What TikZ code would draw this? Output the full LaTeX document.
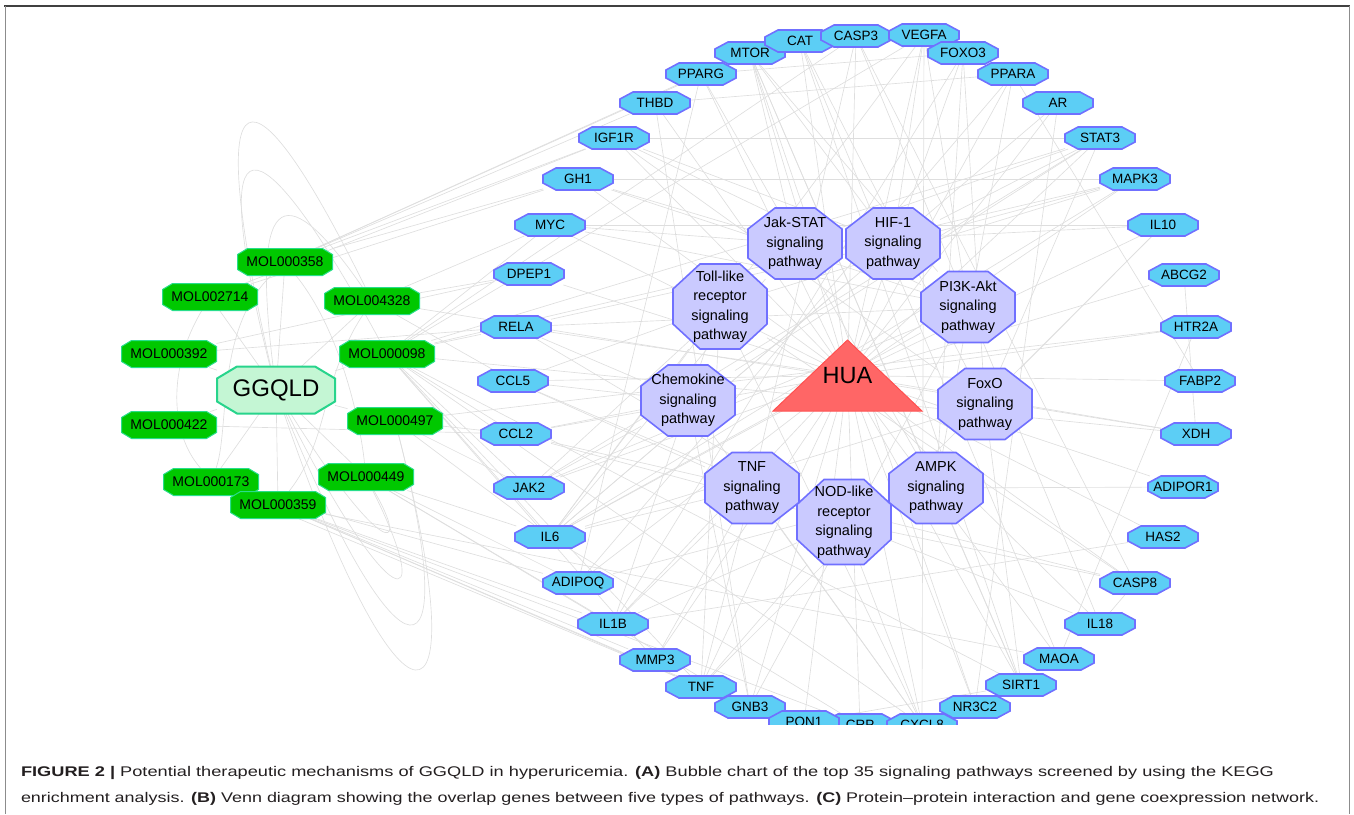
\documentclass[tikz,border=0pt]{standalone}
\usepackage{fontspec}
\setmainfont{Liberation Sans}
\usepackage{graphicx}
\makeatletter
\newdimen\octcx \newdimen\octcy
\newdimen\octxa \newdimen\octya \newdimen\octxb \newdimen\octyb
\pgfkeys{/pgf/octo cx/.initial=10pt, /pgf/octo cy/.initial=5pt}
\pgfdeclareshape{octo}{%
  \inheritsavedanchors[from=rectangle]%
  \inheritanchorborder[from=rectangle]%
  \inheritanchor[from=rectangle]{center}%
  \inheritanchor[from=rectangle]{north}%
  \inheritanchor[from=rectangle]{south}%
  \inheritanchor[from=rectangle]{east}%
  \inheritanchor[from=rectangle]{west}%
  \inheritanchor[from=rectangle]{north east}%
  \inheritanchor[from=rectangle]{north west}%
  \inheritanchor[from=rectangle]{south east}%
  \inheritanchor[from=rectangle]{south west}%
  \inheritanchor[from=rectangle]{base}%
  \inheritanchor[from=rectangle]{mid}%
  \backgroundpath{%
    \pgfmathsetlength\octcx{\pgfkeysvalueof{/pgf/octo cx}}%
    \pgfmathsetlength\octcy{\pgfkeysvalueof{/pgf/octo cy}}%
    \southwest \octxa=\pgf@x \octya=\pgf@y
    \northeast \octxb=\pgf@x \octyb=\pgf@y
    \pgfpathmoveto{\pgfqpoint{\octxa}{\dimexpr\octya+\octcy\relax}}%
    \pgfpathlineto{\pgfqpoint{\octxa}{\dimexpr\octyb-\octcy\relax}}%
    \pgfpathlineto{\pgfqpoint{\dimexpr\octxa+\octcx\relax}{\octyb}}%
    \pgfpathlineto{\pgfqpoint{\dimexpr\octxb-\octcx\relax}{\octyb}}%
    \pgfpathlineto{\pgfqpoint{\octxb}{\dimexpr\octyb-\octcy\relax}}%
    \pgfpathlineto{\pgfqpoint{\octxb}{\dimexpr\octya+\octcy\relax}}%
    \pgfpathlineto{\pgfqpoint{\dimexpr\octxb-\octcx\relax}{\octya}}%
    \pgfpathlineto{\pgfqpoint{\dimexpr\octxa+\octcx\relax}{\octya}}%
    \pgfpathclose
  }%
}
\pgfdeclareshape{trinode}{%
  \inheritsavedanchors[from=rectangle]%
  \inheritanchorborder[from=rectangle]%
  \inheritanchor[from=rectangle]{center}%
  \inheritanchor[from=rectangle]{north}%
  \inheritanchor[from=rectangle]{south}%
  \inheritanchor[from=rectangle]{east}%
  \inheritanchor[from=rectangle]{west}%
  \inheritanchor[from=rectangle]{south east}%
  \inheritanchor[from=rectangle]{south west}%
  \backgroundpath{%
    \southwest \octxa=\pgf@x \octya=\pgf@y
    \northeast \octxb=\pgf@x \octyb=\pgf@y
    \pgfpathmoveto{\pgfqpoint{\octxa}{\octya}}%
    \pgfpathlineto{\pgfqpoint{\octxb}{\octya}}%
    \pgfpathlineto{\pgfqpoint{\dimexpr(\octxa+\octxb)/2\relax}{\octyb}}%
    \pgfpathclose
  }%
}
\makeatother
\pgfdeclarelayer{bg}
\pgfsetlayers{bg,main}
\definecolor{genefill}{RGB}{92,206,245}
\definecolor{genebd}{RGB}{112,112,255}
\definecolor{pathfill}{RGB}{202,202,255}
\definecolor{molfill}{RGB}{0,200,0}
\definecolor{molbd}{RGB}{40,222,140}
\definecolor{herbfill}{RGB}{196,246,212}
\definecolor{herbbd}{RGB}{40,212,140}
\definecolor{huafill}{RGB}{255,102,102}
\definecolor{huabd}{RGB}{255,80,80}
\definecolor{edgec}{RGB}{222,222,222}
\definecolor{capc}{RGB}{35,31,32}
\begin{document}
\begin{tikzpicture}[x=1pt,y=-1pt,
  gene/.style={shape=octo, draw=genebd, fill=genefill, line width=1.6pt,
    minimum width=70pt, minimum height=22pt, inner sep=0pt, outer sep=0pt,
    octo cx=13pt, octo cy=7pt, font=\fontsize{13.5}{14}\selectfont},
  pathw/.style={shape=octo, draw=genebd, fill=pathfill, line width=1.6pt,
    minimum width=94pt, minimum height=71pt, inner sep=0pt, outer sep=0pt,
    octo cx=27pt, octo cy=21pt, align=center, font=\fontsize{14.5}{19.5}\selectfont},
  tallpath/.style={pathw, minimum height=85pt, octo cy=25pt},
  mol/.style={shape=octo, draw=molbd, fill=molfill, line width=1pt,
    minimum width=95pt, minimum height=27pt, inner sep=0pt, outer sep=0pt,
    octo cx=10pt, octo cy=6pt, font=\fontsize{14}{14}\selectfont},
  herb/.style={shape=octo, draw=herbbd, fill=herbfill, line width=2pt,
    minimum width=118pt, minimum height=47pt, inner sep=0pt, outer sep=0pt,
    octo cx=20pt, octo cy=12pt, font=\fontsize{24}{24}\selectfont},
  dis/.style={shape=trinode, draw=huabd, fill=huafill, line width=1pt,
    minimum width=149pt, minimum height=71pt, inner sep=0pt, outer sep=0pt,
    font=\fontsize{23.5}{24}\selectfont},
  edge/.style={draw=edgec, line width=0.65pt},
  captext/.style={anchor=base west, inner sep=0pt, outer sep=0pt, text=capc,
    font=\fontsize{14}{17}\selectfont}
]
\useasboundingbox (0,0) rectangle (1354,814);
% frame
\draw[black!75, line width=1.5pt] (4,6) -- (1350,6);
\draw[black!45, line width=0.8pt] (5,6) -- (5,814);
\draw[black!45, line width=0.8pt] (1349,6) -- (1349,814);

\begin{scope}
\clip (0,7) rectangle (1354,724.5);
% genes
\foreach \n/\x/\y/\t in {
  mtor/750/53/MTOR, cat/800/41/CAT, casp3/856/36/CASP3, vegfa/924/35/VEGFA,
  foxo3/963/53/FOXO3, pparg/701/74/PPARG, ppara/1013/74/PPARA,
  thbd/655/103/THBD, ar/1058/103/AR, igf1r/614/138/IGF1R, stat3/1100/138/STAT3,
  gh1/578/179/GH1, mapk3/1135/179/MAPK3, myc/550/225/MYC, il10/1163/225/IL10,
  dpep1/529/274/DPEP1, abcg2/1184/275/ABCG2, rela/516/327/RELA,
  htr2a/1196/327/HTR2A, ccl5/513/381/CCL5, fabp2/1200/381/FABP2,
  ccl2/516/434/CCL2, xdh/1196/434/XDH, jak2/529/488/JAK2,
  adipor1/1183/487/ADIPOR1, il6/550/537/IL6, has2/1163/537/HAS2,
  adipoq/578/583/ADIPOQ, casp8/1135/583/CASP8, il1b/613/624/IL1B,
  il18/1100/624/IL18, mmp3/655/660/MMP3, maoa/1059/659/MAOA,
  tnf/701/687/TNF, sirt1/1021/685/SIRT1, gnb3/750/707/GNB3,
  nr3c2/975/707/NR3C2, crp/860/725/CRP, pon1/804/722/PON1, cxcl8/922/725/CXCL8}
  \node[gene] (\n) at (\x,\y) {\t};
% pathways
\node[pathw] (jak) at (795,243.5) {Jak-STAT\\signaling\\pathway};
\node[pathw] (hif) at (893,243.5) {HIF-1\\signaling\\pathway};
\node[pathw] (pi3k) at (968,307) {PI3K-Akt\\signaling\\pathway};
\node[tallpath] (toll) at (720,306.5) {Toll-like\\receptor\\signaling\\pathway};
\node[pathw] (chemo) at (688,400.5) {Chemokine\\signaling\\pathway};
\node[pathw] (foxo) at (985,404) {FoxO\\signaling\\pathway};
\node[pathw] (tnfp) at (752,488) {TNF\\signaling\\pathway};
\node[pathw] (ampk) at (936,488) {AMPK\\signaling\\pathway};
\node[tallpath] (nod) at (844,522) {NOD-like\\receptor\\signaling\\pathway};
% disease
\node[dis] (hua) at (847.5,375.5) {HUA};
% herb and molecules
\node[herb] (ggqld) at (276,390) {GGQLD};
\foreach \n/\x/\y/\t in {
  m358/285/262/MOL000358, m2714/210/297/MOL002714, m4328/372/301/MOL004328,
  m392/169/354/MOL000392, m098/387/354/MOL000098, m422/169/425/MOL000422,
  m497/395/421/MOL000497, m173/211/482/MOL000173, m449/366/477/MOL000449,
  m359/278/505/MOL000359}
  \node[mol] (\n) at (\x,\y) {\t};
\end{scope}

\begin{pgfonlayer}{bg}
% HUA - targets
\foreach \g in {mtor,cat,casp3,vegfa,foxo3,pparg,ppara,thbd,ar,igf1r,stat3,gh1,
  mapk3,myc,il10,dpep1,abcg2,rela,htr2a,ccl5,fabp2,ccl2,xdh,jak2,adipor1,il6,
  has2,adipoq,casp8,il1b,il18,mmp3,maoa,tnf,sirt1,gnb3,nr3c2,crp,pon1,cxcl8}
  \draw[edge] (hua.center) -- (\g);
% pathways - genes
\foreach \p/\g in {jak/stat3,jak/il10,jak/il6,jak/jak2,jak/myc,jak/gh1,jak/mtor,
  hif/vegfa,hif/il6,hif/mtor,hif/stat3,hif/rela,hif/mapk3,hif/igf1r,
  pi3k/vegfa,pi3k/il6,pi3k/mtor,pi3k/myc,pi3k/igf1r,pi3k/rela,pi3k/jak2,pi3k/gh1,pi3k/gnb3,
  foxo/foxo3,foxo/sirt1,foxo/il10,foxo/il6,foxo/igf1r,foxo/cat,foxo/stat3,
  ampk/pparg,ampk/adipoq,ampk/adipor1,ampk/sirt1,ampk/mtor,ampk/foxo3,ampk/ppara,
  nod/il1b,nod/il18,nod/casp8,nod/rela,nod/tnf,nod/cxcl8,nod/ccl5,nod/ccl2,
  tnfp/tnf,tnfp/il6,tnfp/il1b,tnfp/ccl2,tnfp/ccl5,tnfp/mmp3,tnfp/cxcl8,tnfp/casp3,tnfp/casp8,
  chemo/ccl2,chemo/ccl5,chemo/cxcl8,chemo/rela,chemo/jak2,chemo/stat3,chemo/gnb3,
  toll/tnf,toll/il6,toll/il1b,toll/ccl5,toll/cxcl8,toll/casp8,toll/mapk3}
  \draw[edge] (\p) -- (\g);
% molecules - genes
\foreach \m/\g in {m098/rela,m098/ccl2,m098/il6,m098/jak2,m098/tnf,m098/vegfa,
  m098/casp3,m098/mapk3,m098/stat3,m098/myc,m098/mmp3,m098/cxcl8,m098/sirt1,m098/xdh,
  m358/igf1r,m358/thbd,m358/gh1,m358/pparg,m358/mtor,
  m4328/myc,m4328/dpep1,m4328/ccl5,m4328/xdh,
  m497/il6,m497/ccl2,m497/jak2,m497/htr2a,
  m449/il6,m449/adipoq,m449/il1b,m449/gnb3,
  m359/il1b,m359/mmp3,m359/tnf,m359/gnb3,m359/crp,m359/maoa,
  m173/adipoq,m173/tnf,m392/rela,m392/dpep1,
  m422/ccl2,m2714/gh1,m2714/igf1r}
  \draw[edge] (\m) -- (\g);
% gene - gene
\foreach \a/\b in {igf1r/stat3,thbd/ppara,pparg/foxo3,mtor/sirt1,casp3/casp8,
  vegfa/il6,cat/maoa,gh1/mapk3,myc/il10,mtor/nr3c2,pparg/adipoq,ar/il6,
  stat3/jak2,ppara/adipoq,foxo3/il1b,vegfa/cxcl8,il10/tnf,mapk3/il6,
  abcg2/xdh,htr2a/maoa,fabp2/ppara,has2/il1b,casp8/il18,sirt1/pon1,
  nr3c2/ar,crp/il6,gnb3/thbd,cat/sirt1,casp3/il18}
  \draw[edge] (\a) -- (\b);
% herb - molecules
\foreach \m in {m358,m2714,m4328,m392,m098,m422,m497,m173,m449,m359}
  \draw[edge] (ggqld) -- (\m);
% bundled curved edges
\draw[edge] (ggqld) .. controls (200,55) and (251,55) .. (m4328);
\draw[edge] (ggqld) .. controls (205,109) and (254,109) .. (m098);
\draw[edge] (ggqld) .. controls (250,181) and (289,181) .. (m4328);
\draw[edge] (ggqld) .. controls (400,752) and (480,752) .. (m497);
\draw[edge] (ggqld) .. controls (400,692) and (464,692) .. (m497);
\draw[edge] (ggqld) .. controls (390,619) and (437,619) .. (m449);
\draw[edge] (ggqld) .. controls (380,556) and (412,556) .. (m449);
\draw[edge] (m2714) .. controls (160,380) and (170,470) .. (m359);
\draw[edge] (m358) .. controls (215,330) and (230,430) .. (m173);
\draw[edge] (m4328) .. controls (320,380) and (330,440) .. (m359);
\draw[edge] (m358) .. controls (340,330) and (360,420) .. (m449);
\end{pgfonlayer}

% caption
\node[captext] (cap1) at (21,776) {\resizebox{1253pt}{\height}{\textbf{FIGURE 2 |} Potential therapeutic mechanisms of GGQLD in hyperuricemia. \textbf{(A)} Bubble chart of the top 35 signaling pathways screened by using the KEGG}};
\node[captext] (cap2) at (21,802) {\resizebox{1298pt}{\height}{enrichment analysis. \textbf{(B)} Venn diagram showing the overlap genes between five types of pathways. \textbf{(C)} Protein–protein interaction and gene coexpression network.}};
\end{tikzpicture}
\end{document}
